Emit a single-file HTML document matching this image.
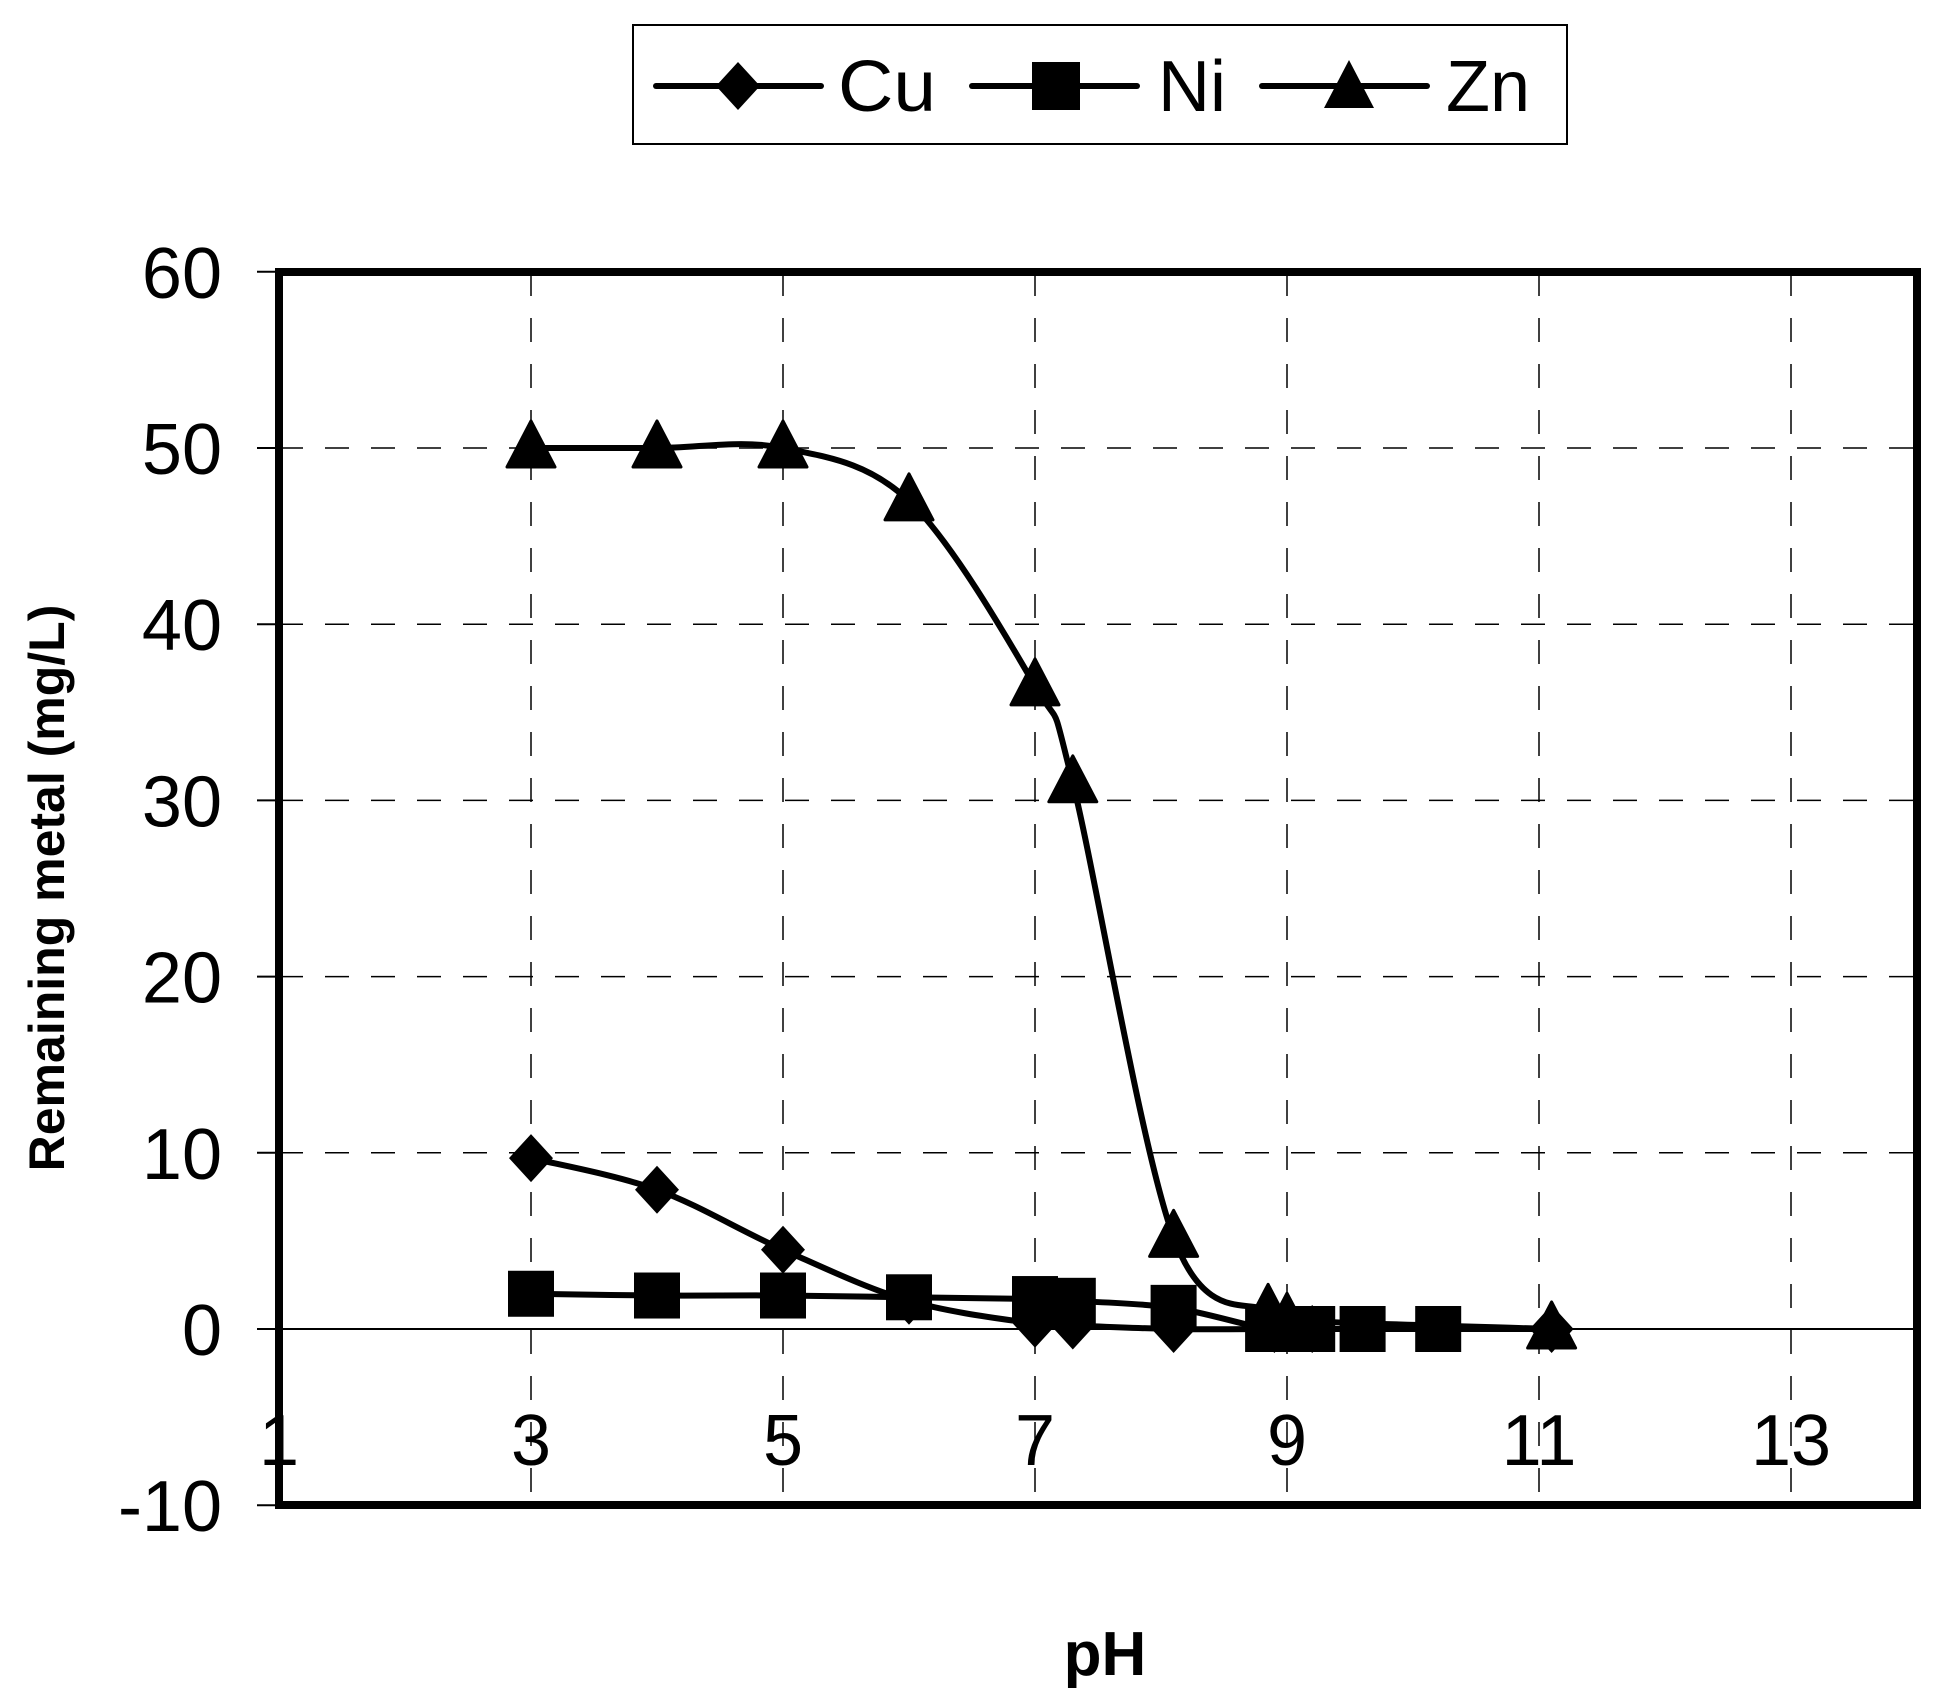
<!DOCTYPE html>
<html><head><meta charset="utf-8"><style>
html,body{margin:0;padding:0;background:#fff}
svg{display:block}
text{font-family:"Liberation Sans",Arial,sans-serif;fill:#000}
</style></head><body>
<svg id="s" width="1954" height="1705" viewBox="0 0 1954 1705" xmlns="http://www.w3.org/2000/svg">
<rect width="1954" height="1705" fill="#fff"/>
<rect x="633" y="25" width="934" height="119" fill="#fff" stroke="#000" stroke-width="2"/>
<g stroke="#000" stroke-width="6" stroke-linecap="round">
<line x1="656" y1="86" x2="821" y2="86"/>
<line x1="972" y1="86" x2="1137" y2="86"/>
<line x1="1262" y1="86" x2="1427" y2="86"/>
</g>
<polygon points="738,62 760,86 738,110 716,86" fill="#000"/>
<rect x="1032" y="62" width="48" height="48" fill="#000"/>
<polygon points="1349,60 1374,108 1324,108" fill="#000"/>
<text x="838" y="111" font-size="72" textLength="98" lengthAdjust="spacingAndGlyphs">Cu</text>
<text x="1158" y="111" font-size="72">Ni</text>
<text x="1446" y="111" font-size="72">Zn</text>
<g id="grid" stroke="#000" stroke-width="1.5" stroke-dasharray="24,22"></g>
<line x1="257" y1="1329" x2="1917" y2="1329" stroke="#000" stroke-width="2"/>
<g id="ticks" stroke="#000" stroke-width="2"></g>
<g id="series"></g>
<rect x="279" y="272" width="1638" height="1233" fill="none" stroke="#000" stroke-width="8"/>
<g id="labels" font-size="72"></g>
<text x="0" y="0" font-size="50" font-weight="bold" text-anchor="middle" transform="translate(64,888) rotate(-90)">Remaining metal (mg/L)</text>
<text x="1105" y="1675" font-size="62" font-weight="bold" text-anchor="middle">pH</text>
</svg>
<script>
var NS="http://www.w3.org/2000/svg";
function X(p){return 279+(p-1)*126.0}
function Y(v){return 1329-v*17.62}
function el(t,a,par){var e=document.createElementNS(NS,t);for(var k in a)e.setAttribute(k,a[k]);document.getElementById(par).appendChild(e);return e}
for(var p=3;p<=13;p+=2)el('line',{x1:X(p),y1:272,x2:X(p),y2:1505},'grid');
for(var v=10;v<=50;v+=10)el('line',{x1:279,y1:Y(v),x2:1917,y2:Y(v)},'grid');
for(var v=-10;v<=60;v+=10)el('line',{x1:257,y1:Y(v),x2:279,y2:Y(v)},'ticks');
for(var v=-10;v<=60;v+=10){var t=el('text',{x:222,y:Y(v)+26,'text-anchor':'end'},'labels');t.textContent=v;}
for(var p=1;p<=13;p+=2){var t=el('text',{x:X(p),y:1465,'text-anchor':'middle'},'labels');t.textContent=p;}
function path(pts){var P=pts.map(function(q){return [X(q[0]),Y(q[1])]});var d='M'+P[0][0]+','+P[0][1];
for(var i=0;i<P.length-1;i++){var p0=P[i-1]||P[i],p1=P[i],p2=P[i+1],p3=P[i+2]||P[i+1];var k=1/6;
d+=' C'+(p1[0]+(p2[0]-p0[0])*k)+','+(p1[1]+(p2[1]-p0[1])*k)+' '+(p2[0]-(p3[0]-p1[0])*k)+','+(p2[1]-(p3[1]-p1[1])*k)+' '+p2[0]+','+p2[1];}
el('path',{d:d,fill:'none',stroke:'#000','stroke-width':6},'series');}
var cu=[[3,9.7],[4,7.9],[5,4.5],[6,1.6],[7,0.3],[7.3,0.2],[8.1,0],[8.9,0],[9.2,0],[11.1,0]];
var ni=[[3,2],[4,1.9],[5,1.9],[6,1.8],[7,1.7],[7.3,1.6],[8.1,1.2],[8.85,0],[9.2,0],[9.6,0],[10.2,0]];
var zn=[[3,50],[4,50],[5,50],[6,47],[7,36.5],[7.3,31],[8.1,5.2],[8.85,1],[9,0.5],[11.1,0]];
path(cu);path(ni);path(zn);
cu.forEach(function(q){var x=X(q[0]),y=Y(q[1]);el('polygon',{points:(x)+','+(y-24)+' '+(x+22)+','+y+' '+x+','+(y+24)+' '+(x-22)+','+y,fill:'#000'},'series')});
ni.forEach(function(q){var x=X(q[0]),y=Y(q[1]);el('rect',{x:x-23,y:y-23,width:46,height:46,fill:'#000'},'series')});
zn.forEach(function(q){var x=X(q[0]),y=Y(q[1]);el('polygon',{points:x+','+(y-27)+' '+(x+24)+','+(y+19)+' '+(x-24)+','+(y+19),fill:'#000','stroke':'#000','stroke-width':3,'stroke-linejoin':'round'},'series')});
</script>
</body></html>
